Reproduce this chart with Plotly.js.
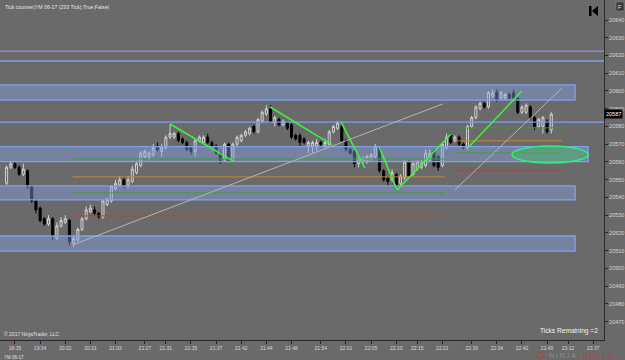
<!DOCTYPE html>
<html><head><meta charset="utf-8">
<script src="https://cdn.plot.ly/plotly-3.0.1.min.js"></script>
<style>html,body{margin:0;padding:0;background:#6a6a6a;}#chart{width:625px;height:360px;}</style>
</head><body><div id="chart"></div>
<script>
// ---- OHLC data (233 tick bars, YM 06-17) ----
const opens = [
20548,20557,20559,20557,20553,20555,20546,20538,20534,20528,
20525,20528,20517,20524,20526,20527,20514,20516,20522,20528,
20532,20533,20531,20529,20536,20538,20545,20547,20550,20547,
20549,20554,20558,20563,20562,20564,20569,20566,20568,20574,
20574,20576,20573,20571,20568,20566,20572,20571,20574,20571,
20569,20565,20562,20570,20561,20570,20572,20575,20576,20580,
20577,20583,20587,20590,20582,20584,20581,20582,20581,20575,
20575,20573,20569,20569,20569,20571,20569,20570,20577,20579,
20580,20572,20567,20566,20559,20560,20560,20562,20563,20568,
20555,20551,20550,20553,20548,20551,20560,20553,20556,20557,
20558,20561,20566,20563,20558,20568,20575,20572,20574,20570,
20568,20580,20585,20590,20593,20591,20597,20599,20596,20596,
20598,20599,20596,20588,20588,20591,20585,20580,20580,20583,
20578];
const highs = [
20558,20560,20560,20558,20559,20556,20547,20539,20535,20529,
20530,20529,20526,20529,20530,20528,20518,20523,20529,20535,
20536,20535,20532,20539,20540,20547,20550,20552,20551,20552,
20558,20560,20566,20567,20566,20570,20571,20570,20575,20581,
20577,20577,20574,20572,20569,20573,20575,20575,20576,20572,
20570,20566,20571,20571,20571,20575,20576,20578,20580,20581,
20585,20589,20592,20592,20586,20585,20584,20583,20582,20576,
20576,20574,20572,20572,20573,20572,20573,20578,20581,20583,
20581,20573,20568,20567,20563,20563,20564,20565,20570,20569,
20556,20552,20556,20554,20553,20561,20561,20560,20561,20561,
20567,20567,20567,20564,20571,20576,20576,20575,20575,20571,
20581,20586,20592,20594,20594,20600,20601,20601,20600,20599,
20599,20601,20597,20592,20593,20592,20586,20585,20586,20584,
20588];
const lows = [
20547,20556,20556,20552,20552,20545,20537,20531,20526,20524,
20524,20516,20516,20523,20525,20513,20512,20515,20521,20527,
20531,20530,20528,20528,20535,20537,20544,20546,20545,20545,
20548,20553,20557,20562,20561,20563,20566,20563,20567,20573,
20573,20571,20570,20566,20564,20563,20571,20570,20570,20568,
20564,20559,20560,20560,20560,20569,20571,20574,20575,20576,
20576,20582,20586,20582,20580,20580,20580,20578,20573,20572,
20569,20570,20565,20565,20566,20568,20568,20569,20576,20578,
20571,20566,20564,20557,20557,20559,20559,20561,20562,20554,
20549,20547,20549,20544,20546,20550,20551,20552,20555,20556,
20557,20560,20557,20555,20557,20567,20570,20571,20569,20567,
20567,20579,20584,20589,20590,20590,20596,20594,20595,20595,
20595,20595,20587,20587,20587,20584,20578,20579,20576,20576,
20576];
const closes = [
20557,20559,20557,20553,20556,20546,20538,20533,20527,20525,
20528,20518,20524,20527,20528,20515,20517,20522,20528,20533,
20534,20531,20529,20538,20539,20546,20548,20550,20547,20550,
20556,20559,20565,20566,20565,20568,20567,20568,20574,20576,
20576,20572,20571,20567,20566,20572,20574,20574,20571,20569,
20565,20561,20570,20561,20570,20574,20575,20577,20579,20577,
20584,20588,20590,20583,20585,20581,20583,20579,20574,20573,
20571,20571,20571,20571,20571,20570,20571,20577,20580,20582,
20572,20567,20565,20559,20562,20562,20563,20564,20569,20555,
20550,20549,20554,20546,20552,20560,20552,20559,20560,20559,
20565,20565,20558,20557,20570,20574,20571,20574,20570,20568,
20580,20585,20591,20593,20591,20599,20599,20595,20599,20598,
20596,20596,20588,20591,20592,20585,20580,20584,20585,20577,
20587];

// ---- time axis labels (bar index -> time) ----
const timeTickBars = [2,8,14,20,26,33,38,44,50,56,62,68,75,81,87,93,98,104,111,117,123,129,134,140];
const timeTickLabels = ["18:35","19:34","20:02","20:31","21:03","21:27","21:31","21:35","21:37","21:42","21:44","21:48","21:54","22:01","22:05","22:10","22:15","22:21","22:30","22:34","22:42","22:49","23:12","23:37"];
const priceTicks = [20470,20480,20490,20500,20510,20520,20530,20540,20550,20560,20570,20580,20590,20600,20610,20620,20630,20640];
const lastPrice = 20587;

// ---- drawing objects (data coordinates: bar index, price) ----
const zoneEnds = [135.7, 138.8, 135.7, 135.7];
const zoneLows = [20594.8, 20560.2, 20538.6, 20509.8];
const zoneHighs = [20603.5, 20568.6, 20546.5, 20518.3];
const fullLines = [20622.5, 20616.9, 20582.5];
const levelX0 = [15.8, 15.8, 15.8, 15.8, 107, 107, 107, 107];
const levelX1 = [104.6, 104.6, 104.6, 104.6, 132.6, 132.6, 132.6, 132.6];
const levelPrice = [20561.7, 20551.6, 20542.6, 20529.6, 20579.2, 20571.9, 20565.1, 20555.5];
const levelColor = ['#3f9a3f','#c08a2a','#3f9a3f','#b8403c','#3f9a3f','#c08a2a','#3f9a3f','#b8403c'];
const trendX0 = [15.8, 107.0], trendY0 = [20513.3, 20544.3];
const trendX1 = [104.1, 132.6], trendY1 = [20592.7, 20601.7];
const swingX0 = [39.0, 62.9, 79.8, 88.9, 93.2, 110.1];
const swingY0 = [20581.4, 20591.0, 20582.6, 20568.5, 20544.3, 20567.9];
const swingX1 = [54.0, 77.7, 85.5, 93.2, 106.1, 123.0];
const swingY1 = [20560.6, 20569.6, 20556.7, 20544.3, 20575.8, 20600.0];
const ellX = [120.6, 138.8], ellY = [20559.4, 20569.0];

const idx = opens.map((_, i) => i);

const trace = {
  type: 'candlestick', x: idx, open: opens, high: highs, low: lows, close: closes,
  increasing: {line: {color: '#cfcfcf', width: 1}, fillcolor: 'rgba(106,106,106,0)'},
  decreasing: {line: {color: '#050505', width: 1}, fillcolor: '#000000'},
  whiskerwidth: 0, hoverinfo: 'skip'
};

const shapes = [];
for (let k = 0; k < zoneEnds.length; k++) {
  shapes.push({type:'rect', xref:'x', yref:'y', x0:-3, x1:zoneEnds[k], y0:zoneLows[k], y1:zoneHighs[k],
    fillcolor:'rgba(135,165,235,0.42)', line:{color:'#7ea2ec', width:1.3}, layer:'above'});
}
fullLines.forEach((p, k) => shapes.push({type:'line', xref:'x', yref:'y', x0:-3, x1:145, y0:p, y1:p,
  line:{color: k===0 ? '#8a9cc4' : '#7ea2ec', width:1.3}}));
for (let k = 0; k < levelPrice.length; k++) {
  shapes.push({type:'line', xref:'x', yref:'y', x0:levelX0[k], x1:levelX1[k], y0:levelPrice[k], y1:levelPrice[k],
    line:{color:levelColor[k], width:1}});
}
for (let k = 0; k < trendX0.length; k++) {
  shapes.push({type:'line', xref:'x', yref:'y', x0:trendX0[k], x1:trendX1[k], y0:trendY0[k], y1:trendY1[k],
    line:{color:'#b4b4b4', width:1}});
}
for (let k = 0; k < swingX0.length; k++) {
  shapes.push({type:'line', xref:'x', yref:'y', x0:swingX0[k], x1:swingX1[k], y0:swingY0[k], y1:swingY1[k],
    line:{color:'#3ef03e', width:1.6}});
}
shapes.push({type:'circle', xref:'x', yref:'y', x0:ellX[0], x1:ellX[1], y0:ellY[0], y1:ellY[1],
  fillcolor:'rgba(60,200,90,0.38)', line:{color:'#2ff07a', width:1.5}});

const W = 604, H = 340;
const px = v => v / W, py = v => 1 - v / H;
shapes.push({type:'rect', xref:'paper', yref:'paper', x0:px(589), x1:px(591.5), y0:py(16), y1:py(6), fillcolor:'#000', line:{width:0}});
shapes.push({type:'path', xref:'paper', yref:'paper', path:`M ${px(598)} ${py(6)} L ${px(592)} ${py(11)} L ${px(598)} ${py(16)} Z`, fillcolor:'#000', line:{width:0}});
shapes.push({type:'rect', xref:'paper', yref:'paper', x0:px(616), x1:px(624), y0:py(11), y1:py(2), fillcolor:'#3a3a3a', line:{color:'#888', width:0.6}});
shapes.push({type:'circle', xref:'paper', yref:'paper', x0:px(537), x1:px(544), y0:py(359), y1:py(352), fillcolor:'rgba(0,0,0,0)', line:{color:'#b04040', width:1}});

const fam = 'Liberation Sans, Arial, sans-serif';
const annotations = [
  {xref:'paper', yref:'paper', x:px(3), y:py(2), xanchor:'left', yanchor:'top', showarrow:false,
   text:'Tick counter(YM 06-17 (233 Tick),True,False)', font:{family:fam, size:5.2, color:'#e4e4e4'}},
  {xref:'paper', yref:'paper', x:px(2), y:py(329), xanchor:'left', yanchor:'top', showarrow:false,
   text:'© 2017 NinjaTrader, LLC', font:{family:fam, size:5, color:'#e0e0e0'}},
  {xref:'paper', yref:'paper', x:px(2), y:py(352.5), xanchor:'left', yanchor:'top', showarrow:false,
   text:'YM 06-17', font:{family:fam, size:4.5, color:'#e0e0e0'}},
  {xref:'paper', yref:'paper', x:px(600), y:py(331), xanchor:'right', yanchor:'middle', showarrow:false,
   text:'Ticks Remaining =2', font:{family:fam, size:6.6, color:'#f2f2f2'}},
  {xref:'paper', yref:'y', x:px(613), y:lastPrice, xanchor:'center', yanchor:'middle', showarrow:false,
   text:String(lastPrice), bgcolor:'#000', borderpad:1, font:{family:fam, size:5.5, color:'#ffffff'}},
  {xref:'paper', yref:'paper', x:px(620), y:py(6.5), xanchor:'center', yanchor:'middle', showarrow:false,
   text:'F', font:{family:fam, size:5.5, color:'#dddddd'}},
  {xref:'paper', yref:'paper', x:px(547), y:py(355.5), xanchor:'left', yanchor:'middle', showarrow:false,
   text:'<span style="color:#8c8c8c">N I N J A </span><span style="color:#d23a3a">T R A D E R</span><span style="color:#d23a3a;font-size:4px">®</span>',
   font:{family:fam, size:6.8, color:'#8c8c8c'}}
];

const layout = {
  width: 625, height: 360,
  margin: {l: 0, r: 21, t: 0, b: 20, pad: 0},
  paper_bgcolor: '#6a6a6a', plot_bgcolor: '#6a6a6a',
  showlegend: false, dragmode: false,
  font: {family: fam, color: '#dcdcdc'},
  xaxis: {
    range: [-1.575, 142.58], tickmode: 'array', tickvals: timeTickBars, ticktext: timeTickLabels,
    tickfont: {family: fam, size: 5, color: '#d8d8d8'}, ticks: 'outside', ticklen: 3, tickcolor: '#2a2a2a',
    showgrid: false, zeroline: false, showline: true, linecolor: '#2a2a2a', linewidth: 1,
    rangeslider: {visible: false}, fixedrange: true, ticklabelstandoff: 0
  },
  yaxis: {
    side: 'right', range: [20459.69, 20651.27], tickmode: 'array', tickvals: priceTicks,
    ticktext: priceTicks.map(String),
    tickfont: {family: fam, size: 5.5, color: '#d8d8d8'}, ticks: 'outside', ticklen: 3, tickcolor: '#2a2a2a',
    showgrid: false, zeroline: false, showline: true, linecolor: '#2a2a2a', linewidth: 1, fixedrange: true
  },
  shapes: shapes,
  annotations: annotations
};

Plotly.newPlot('chart', [trace], layout, {displayModeBar: false, staticPlot: true});
</script></body></html>
